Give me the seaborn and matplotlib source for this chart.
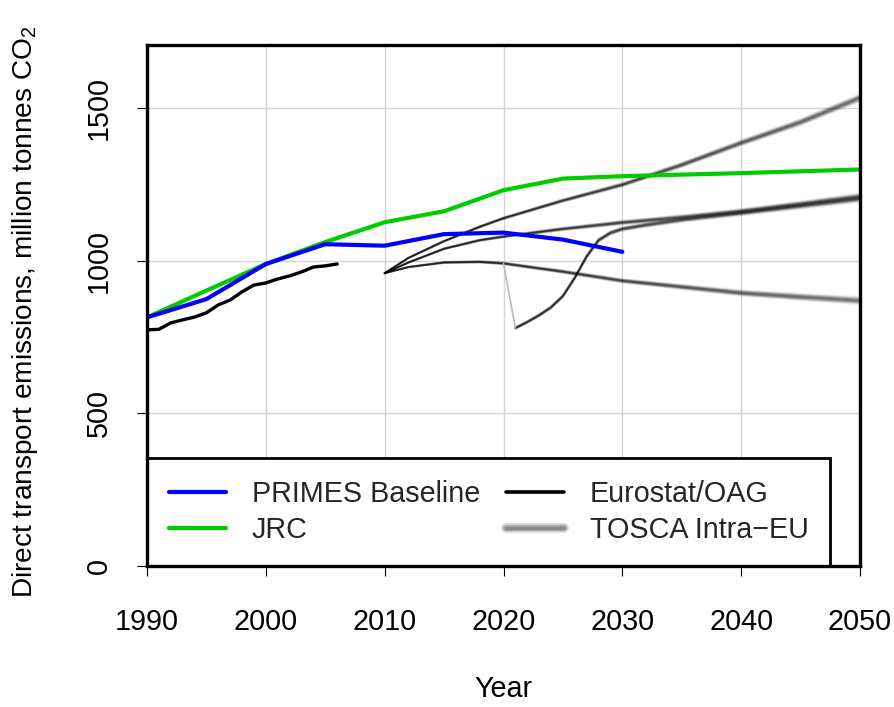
import numpy as np
import pandas as pd
import matplotlib
matplotlib.use("Agg")
import matplotlib.pyplot as plt
import seaborn as sns
from matplotlib.lines import Line2D
from matplotlib.legend_handler import HandlerTuple

# ---------------- data ----------------
primes_years = [1990, 1995, 2000, 2005, 2010, 2015, 2020, 2025, 2030]
primes_vals = [815, 875, 990, 1055, 1050, 1088, 1093, 1070, 1030]

jrc_years = [1990, 1995, 2000, 2005, 2010, 2015, 2020, 2025, 2030, 2035, 2040, 2045, 2050]
jrc_vals = [815, 903, 990, 1062, 1127, 1163, 1232, 1270, 1278, 1283, 1288, 1294, 1300]

eurostat_years = list(range(1990, 2007))
eurostat_vals = [774, 776, 797, 807, 816, 830, 856, 872, 899, 921, 928, 941, 951, 964, 980, 984, 990]

tosca_years = [2010, 2012, 2015, 2018, 2020, 2025, 2030, 2035, 2040, 2045, 2050]
tosca_high = [960, 1010, 1065, 1112, 1140, 1198, 1250, 1315, 1387, 1455, 1535]
tosca_mid = [960, 995, 1040, 1068, 1080, 1105, 1126, 1143, 1162, 1185, 1210]
tosca_low = [960, 980, 995, 997, 992, 965, 935, 915, 895, 882, 870]

covid_years = [2021, 2022, 2023, 2024, 2025, 2026, 2027, 2028, 2029, 2030, 2032, 2035, 2040, 2045, 2050]
covid_vals = [780, 800, 822, 848, 885, 945, 1015, 1068, 1092, 1105, 1118, 1135, 1158, 1182, 1205]

legend_labels = ["PRIMES Baseline", "JRC", "Eurostat/OAG", "TOSCA Intra\u2212EU"]
x_ticks = [1990, 2000, 2010, 2020, 2030, 2040, 2050]
y_ticks = [0, 500, 1000, 1500]

# ---------------- style ----------------
sns.set_theme(style="white")
plt.rcParams["font.family"] = ["Liberation Sans", "DejaVu Sans"]
plt.rcParams["mathtext.fontset"] = "custom"
plt.rcParams["mathtext.rm"] = "Liberation Sans"
plt.rcParams["mathtext.it"] = "Liberation Sans:italic"
plt.rcParams["mathtext.bf"] = "Liberation Sans:bold"
FS = 20.7

fig = plt.figure(figsize=(8.95, 7.07), dpi=100)
ax = fig.add_axes([147 / 895, 1 - 566 / 707, 713 / 895, 521 / 707])

ax.set_xlim(1990, 2050)
ax.set_ylim(0, 1708)

# grid
for xv in x_ticks[1:-1]:
    ax.axvline(xv, color="#d4d4d4", lw=1.0, zorder=0)
for yv in y_ticks[1:]:
    ax.axhline(yv, color="#d4d4d4", lw=1.0, zorder=0)

# TOSCA scenarios: fuzzy uncertainty-style lines
def fuzzy(years, vals):
    years = np.asarray(years, float)
    vals = np.asarray(vals, float)
    spread = 0.8 + 12 * (years - 2010) / 40.0
    for k in np.linspace(-1, 1, 9):
        ax.plot(years, vals + k * spread, color="black", lw=1.3,
                alpha=0.36 * np.exp(-2.0 * k * k), zorder=2,
                solid_joinstyle="round")

for yrs, vals in [(tosca_years, tosca_high), (tosca_years, tosca_mid),
                  (tosca_years, tosca_low), (covid_years, covid_vals)]:
    fuzzy(yrs, vals)

# drop of the covid scenario from the 2020 level (faint)
i2020 = tosca_years.index(2020)
ax.plot([tosca_years[i2020], covid_years[0]], [tosca_low[i2020], covid_vals[0]],
        color="#bbbbbb", lw=1.2, zorder=2)

df_p = pd.DataFrame({"year": primes_years, "val": primes_vals})
df_j = pd.DataFrame({"year": jrc_years, "val": jrc_vals})
df_e = pd.DataFrame({"year": eurostat_years, "val": eurostat_vals})

sns.lineplot(data=df_e, x="year", y="val", ax=ax, color="black", lw=2.4,
             legend=False, zorder=3)
sns.lineplot(data=df_j, x="year", y="val", ax=ax, color="#00cc00", lw=3.0,
             legend=False, zorder=4)
sns.lineplot(data=df_p, x="year", y="val", ax=ax, color="#0000ff", lw=3.0,
             legend=False, zorder=5)

# axes styling
ax.set_xticks(x_ticks)
ax.set_yticks(y_ticks)
ax.set_yticklabels([str(v) for v in y_ticks], rotation=90, va="center")
ax.tick_params(axis="both", which="both", direction="out", length=7.5,
               width=0.8, color="black", labelsize=FS, labelcolor="black",
               bottom=True, left=True)
ax.tick_params(axis="x", pad=23)
ax.tick_params(axis="y", pad=17)
for s in ax.spines.values():
    s.set_visible(True)
    s.set_color("black")
    s.set_linewidth(2.4)
    s.set_zorder(10)

ax.set_xlabel("Year", fontsize=FS, labelpad=28, color="black")
ax.set_ylabel("Direct transport emissions, million tonnes CO$_2$",
              fontsize=20.2, color="black")
ax.yaxis.set_label_coords(-0.150, 0.4875)

# legend
h_p = Line2D([], [], color="#0000ff", lw=3.0)
h_j = Line2D([], [], color="#00cc00", lw=3.0)
h_e = Line2D([], [], color="black", lw=2.6)
h_t = (Line2D([], [], color="#b0b0b0", lw=7, alpha=0.5),
       Line2D([], [], color="#999999", lw=4.5, alpha=0.7),
       Line2D([], [], color="#888888", lw=2.5, alpha=0.9))
leg = ax.legend([h_p, h_j, h_e, h_t], legend_labels, ncol=2,
                loc="lower left", bbox_to_anchor=(0, 0, (830 - 147) / 713, 0.2),
                mode="expand", borderaxespad=0, fontsize=FS,
                frameon=True, fancybox=False, framealpha=1,
                handlelength=2.0, handletextpad=0.9, columnspacing=0.9,
                labelspacing=0.3, borderpad=0.75,
                handler_map={tuple: HandlerTuple(ndivide=1, pad=0)})
leg.get_frame().set_edgecolor("black")
leg.get_frame().set_linewidth(2.0)
leg.set_zorder(8)

fig.savefig("out.png", dpi=100, facecolor="white")
